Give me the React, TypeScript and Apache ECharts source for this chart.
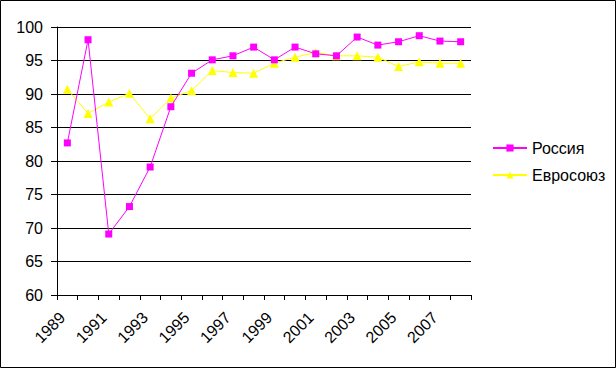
import React, { useEffect, useRef } from "react";
import * as echarts from "echarts";

const years = ["1989","1990","1991","1992","1993","1994","1995","1996","1997","1998","1999","2000","2001","2002","2003","2004","2005","2006","2007","2008"];
const russia = [82.7, 98.1, 69.1, 73.2, 79.1, 88.1, 93.1, 95.1, 95.7, 97.0, 95.1, 97.0, 96.0, 95.7, 98.5, 97.3, 97.8, 98.7, 97.9, 97.8];
const eu = [90.7, 87.1, 88.8, 90.1, 86.3, 89.4, 90.5, 93.5, 93.2, 93.1, 94.6, 95.5, 96.2, 95.7, 95.7, 95.5, 94.1, 94.8, 94.6, 94.6];
const yTicks = { min: 60, max: 100, interval: 5 };

export default function App() {
  const ref = useRef<HTMLDivElement>(null);
  useEffect(() => {
    document.body.style.margin = "0";
    const chart = echarts.init(ref.current!, null, { renderer: "svg" });
    const font = "'Liberation Sans', Arial, sans-serif";
    chart.setOption({
      animation: false,
      backgroundColor: "#ffffff",
      textStyle: { fontFamily: font },
      grid: { left: 57, right: 145, top: 27, bottom: 73 },
      graphic: [
        {
          type: "rect",
          shape: { x: 0.5, y: 0.5, width: 615, height: 367 },
          style: { fill: "none", stroke: "#000", lineWidth: 1 },
          silent: true,
        },
      ],
      legend: {
        orient: "vertical",
        left: 492,
        top: 140,
        padding: 0,
        itemWidth: 34,
        itemHeight: 9,
        itemGap: 11,
        textStyle: { fontFamily: font, fontSize: 16, color: "#000", lineHeight: 16, padding: [0, 0, 0, 0] },
        data: ["Россия", "Евросоюз"],
      },
      xAxis: {
        type: "category",
        data: years,
        boundaryGap: true,
        axisLine: { lineStyle: { color: "#000", width: 1 } },
        axisTick: { show: true, length: 5, inside: false, alignWithLabel: false, interval: 0, lineStyle: { color: "#000" } },
        axisLabel: { interval: 1, rotate: 45, color: "#000", fontSize: 16, fontFamily: font, margin: 15, padding: [0, 7, 0, 0] },
        splitLine: { show: false },
      },
      yAxis: {
        type: "value",
        min: yTicks.min,
        max: yTicks.max,
        interval: yTicks.interval,
        axisLine: { show: true, lineStyle: { color: "#000", width: 1 } },
        axisTick: { show: true, length: 6, lineStyle: { color: "#000" } },
        axisLabel: { color: "#000", fontSize: 16, fontFamily: font, margin: 14 },
        splitLine: { show: true, lineStyle: { color: "#000", width: 1 } },
      },
      series: [
        {
          name: "Россия",
          type: "line",
          data: russia,
          symbol: "rect",
          symbolSize: 7,
          showAllSymbol: true,
          lineStyle: { color: "#ff00ff", width: 1 },
          itemStyle: { color: "#ff00ff" },
        },
        {
          name: "Евросоюз",
          type: "line",
          data: eu,
          symbol: "triangle",
          symbolSize: 9,
          showAllSymbol: true,
          lineStyle: { color: "#ffff00", width: 1 },
          itemStyle: { color: "#ffff00" },
          z: 1,
        },
      ],
    });
    return () => chart.dispose();
  }, []);
  return <div ref={ref} style={{ width: 616, height: 368, position: "fixed", left: 0, top: 0 }} />;
}
